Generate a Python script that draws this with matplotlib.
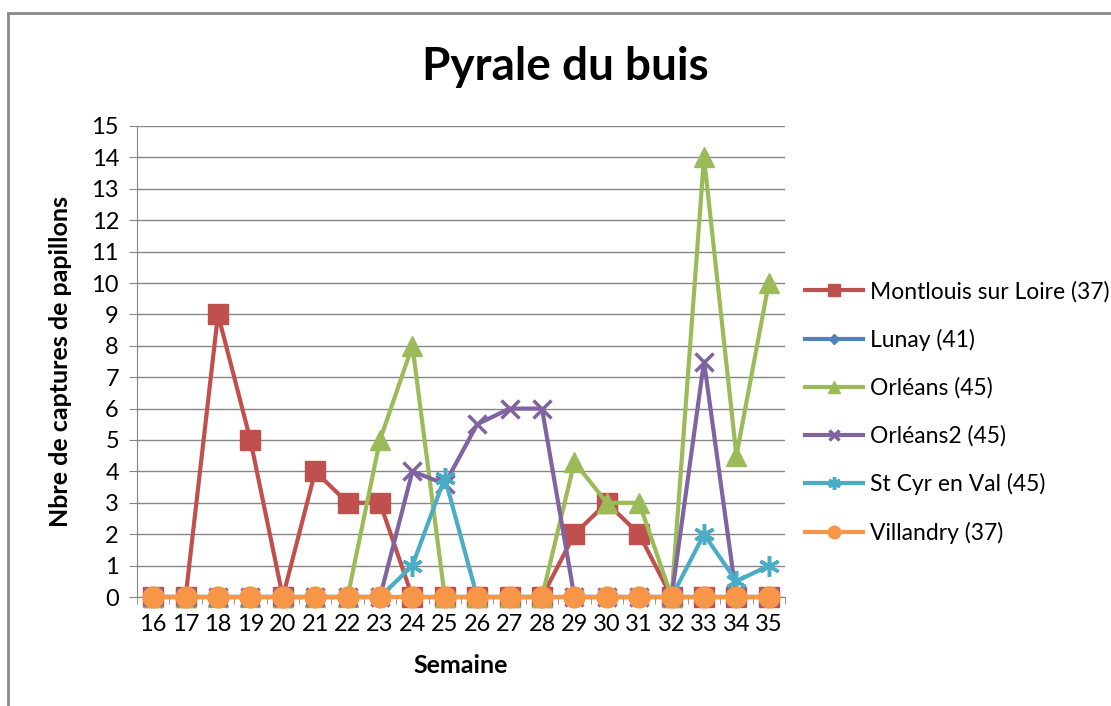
"""
plot.py

Pyrale du buis: weekly moth captures per trap site.
"""

import matplotlib
matplotlib.use("Agg")
import matplotlib.pyplot as plt
from matplotlib.lines import Line2D

plt.rcParams["font.family"] = ["Lato", "DejaVu Sans"]

weeks = [16, 17, 18, 19, 20, 21, 22, 23, 24, 25,
         26, 27, 28, 29, 30, 31, 32, 33, 34, 35]

montlouis = [0, 0, 9, 5, 0, 4, 3, 3, 0, 0, 0, 0, 0, 2, 3, 2, 0, 0, 0, 0]
lunay = [0] * 20
orleans = [0, 0, 0, 0, 0, 0, 0, 5, 8, 0, 0, 0, 0, 4.3, 3, 3, 0, 14, 4.5, 10]
orleans2 = [0, 0, 0, 0, 0, 0, 0, 0, 4, 3.6, 5.5, 6, 6, 0, 0, 0, 0, 7.5, 0, 0]
st_cyr = [0, 0, 0, 0, 0, 0, 0, 0, 1, 3.8, 0, 0, 0, 0, 0, 0, 0, 2, 0.5, 1]
villandry = [0] * 20

series = [
    ("Montlouis sur Loire (37)", montlouis, "#C0504D", "s", 14),
    ("Lunay (41)", lunay, "#4F81BD", "D", 9),
    ("Orléans (45)", orleans, "#9BBB59", "^", 15),
    ("Orléans2 (45)", orleans2, "#8064A2", "x", 13),
    ("St Cyr en Val (45)", st_cyr, "#4BACC6", (6, 2, 0), 15),
    ("Villandry (37)", villandry, "#F79646", "o", 15),
]


def main():

    fig = plt.figure(figsize=(11.11, 7.06), dpi=100)
    ax = fig.add_axes([137 / 1111, 109 / 706, 648 / 1111, 471 / 706])

    x = list(range(len(weeks)))
    for label, values, color, marker, size in series:
        ax.plot(x, values, color=color, lw=3, marker=marker, ms=size,
                mew=2.5 if marker in ("x", (6, 2, 0)) else 1,
                mec=color, label=label, clip_on=False, zorder=3)

    ax.set_xlim(-0.5, len(weeks) - 0.5)
    ax.set_ylim(0, 15)
    ax.set_yticks(range(16))
    ax.set_xticks(x)
    ax.set_xticklabels([str(w) for w in weeks])
    ax.set_xticks([i - 0.5 for i in range(len(weeks) + 1)], minor=True)
    ax.tick_params(axis="x", which="major", length=0, labelsize=17, pad=12)
    ax.tick_params(axis="x", which="minor", length=5, color="#868686")
    ax.tick_params(axis="y", length=6, color="#868686", labelsize=17, pad=7)

    ax.grid(axis="y", color="#868686", lw=1)
    ax.set_axisbelow(True)
    for side in ("top", "right"):
        ax.spines[side].set_visible(False)
    for side in ("left", "bottom"):
        ax.spines[side].set_color("#868686")

    ax.set_xlabel("Semaine", fontsize=18, fontweight="bold", labelpad=14)
    ax.set_ylabel("Nbre de captures de papillons", fontsize=18,
                  fontweight="bold", labelpad=14)

    fig.text(0.509, 0.905, "Pyrale du buis", ha="center", va="center",
             fontsize=33, fontweight="bold")

    ax.legend(loc="upper left", bbox_to_anchor=(805 / 1111, 1 - 281 / 706),
              bbox_transform=fig.transFigure, frameon=False, fontsize=16.5,
              handlelength=2.55, labelspacing=1.15, markerscale=0.6,
              handletextpad=0.3, borderpad=0, borderaxespad=0)

    fig.add_artist(Line2D([8 / 1111, 8 / 1111], [0, 1 - 13 / 706],
                          transform=fig.transFigure, color="#8a8a8a", lw=2))
    fig.add_artist(Line2D([8 / 1111, 1], [1 - 13 / 706, 1 - 13 / 706],
                          transform=fig.transFigure, color="#8a8a8a", lw=2))

    fig.savefig("out.png", dpi=100)
    plt.close(fig)


if __name__ == "__main__":
    main()
